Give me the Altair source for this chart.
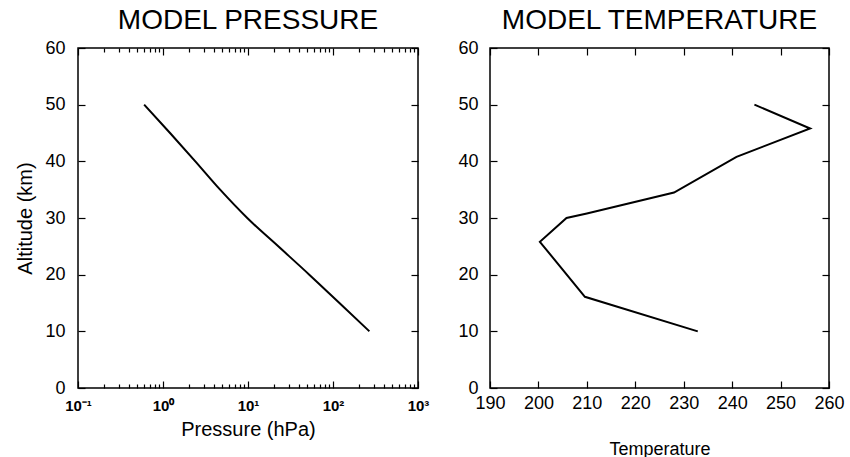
import altair as alt
import pandas as pd

# ---- data ----
altitude_p = [10, 15, 20, 25, 30, 35, 40, 45, 50]
pressure = [268, 119, 52.6, 22.7, 9.8, 4.7, 2.4, 1.21, 0.6]

altitude_t = [10, 16.1, 25.8, 30, 30.8, 34.5, 40.8, 45.8, 50]
temperature = [232.9, 209.6, 200.3, 205.8, 210, 228, 240.9, 256.1, 244.6]

p_major = [0.1, 1, 10, 100, 1000]
p_minor = [0.2, 0.3, 0.4, 0.5, 0.6, 0.7, 0.8, 0.9,
           2, 3, 4, 5, 6, 7, 8, 9,
           20, 30, 40, 50, 60, 70, 80, 90,
           200, 300, 400, 500, 600, 700, 800, 900]
p_labels = ["10⁻¹", "10⁰", "10¹", "10²", "10³"]
alt_ticks = [0, 10, 20, 30, 40, 50, 60]
t_ticks = [190, 200, 210, 220, 230, 240, 250, 260]

FONT = "Liberation Sans"
W, H = 340, 340
MAJ = alt.ExprRef(expr="-7")
MIN = alt.ExprRef(expr="-4")

dfp = pd.DataFrame({"alt": altitude_p, "p": pressure})
dft = pd.DataFrame({"alt": altitude_t, "T": temperature})

ys = alt.Scale(domain=[0, 60], nice=False, zero=False)
xs_p = alt.Scale(type="log", domain=[0.1, 1000], nice=False)
xs_t = alt.Scale(domain=[190, 260], nice=False, zero=False)

label_expr = "[" + ",".join("'%s'" % s for s in p_labels) + "][round(log(datum.value)/LN10)+1]"


def tick_axis(orient, values, size):
    return alt.Axis(orient=orient, values=values, tickSize=size, labels=False,
                    title=None, domain=False, grid=False)


def yleft(padding):
    return alt.Axis(orient="left", values=alt_ticks, tickSize=MAJ, labelPadding=padding,
                    labelFontSize=18, labelFlush=False, labelOverlap=False,
                    domain=False, grid=False, title=None)


# ---- left panel: pressure ----
bp = alt.Chart(dfp)
pA = bp.mark_line(color="black", strokeWidth=2, interpolate="monotone").encode(
    x=alt.X("p:Q", scale=xs_p, axis=alt.Axis(
        orient="bottom", values=p_major, labelExpr=label_expr, tickSize=MAJ,
        labelPadding=17, labelFontSize=15, labelFontWeight="bold", labelFlush=False,
        labelOverlap=False, domain=False, grid=False,
        title="Pressure (hPa)", titleFontSize=20, titlePadding=6)),
    y=alt.Y("alt:Q", scale=ys, axis=alt.Axis(
        orient="left", values=alt_ticks, tickSize=MAJ, labelPadding=20,
        labelFontSize=18, labelFlush=False, labelOverlap=False, domain=False, grid=False,
        title="Altitude (km)", titleFontSize=20, titlePadding=9)),
    order="alt:Q",
)
pB = bp.mark_line(opacity=0).encode(
    x=alt.X("p:Q", scale=xs_p, axis=tick_axis("top", p_major, MAJ)),
    y=alt.Y("alt:Q", scale=ys, axis=tick_axis("right", alt_ticks, MAJ)),
    order="alt:Q",
)
pC = bp.mark_line(opacity=0).encode(
    x=alt.X("p:Q", scale=xs_p, axis=tick_axis("bottom", p_minor, MIN)),
    y=alt.Y("alt:Q", scale=ys, axis=None),
    order="alt:Q",
)
pD = bp.mark_line(opacity=0).encode(
    x=alt.X("p:Q", scale=xs_p, axis=tick_axis("top", p_minor, MIN)),
    y=alt.Y("alt:Q", scale=ys, axis=None),
    order="alt:Q",
)
left = alt.layer(pA, pB, pC, pD).resolve_scale(x="independent", y="independent").properties(
    width=W, height=H,
    title=alt.TitleParams("MODEL PRESSURE", fontSize=28, font=FONT, fontWeight="normal",
                          color="black", offset=4),
)

# ---- right panel: temperature ----
bt = alt.Chart(dft)
tA = bt.mark_line(color="black", strokeWidth=2).encode(
    x=alt.X("T:Q", scale=xs_t, axis=alt.Axis(
        orient="bottom", values=t_ticks, tickSize=MAJ, labelPadding=13, labelFontSize=18,
        labelFlush=False, labelOverlap=False, domain=False, grid=False,
        title="Temperature", titleFontSize=18, titlePadding=28)),
    y=alt.Y("alt:Q", scale=ys, axis=yleft(19)),
    order="alt:Q",
)
tB = bt.mark_line(opacity=0).encode(
    x=alt.X("T:Q", scale=xs_t, axis=tick_axis("top", t_ticks, MAJ)),
    y=alt.Y("alt:Q", scale=ys, axis=tick_axis("right", alt_ticks, MAJ)),
    order="alt:Q",
)
right = alt.layer(tA, tB).resolve_scale(x="independent", y="independent").properties(
    width=339, height=H,
    title=alt.TitleParams("MODEL TEMPERATURE", fontSize=28, font=FONT, fontWeight="normal",
                          color="black", offset=4),
)

chart = alt.hconcat(left, right, spacing=72, bounds="flush").properties(
    padding={"left": 15, "top": 6, "right": 5, "bottom": 5},
    background="white",
).configure_view(
    stroke="black", strokeWidth=1.5
).configure_axis(
    labelFont=FONT, titleFont=FONT, labelColor="black", titleColor="black",
    tickColor="black", tickWidth=1.2, titleFontWeight="normal",
).configure_title(anchor="middle")

chart.save("out.html", embed_options={"renderer": "svg", "actions": False})
